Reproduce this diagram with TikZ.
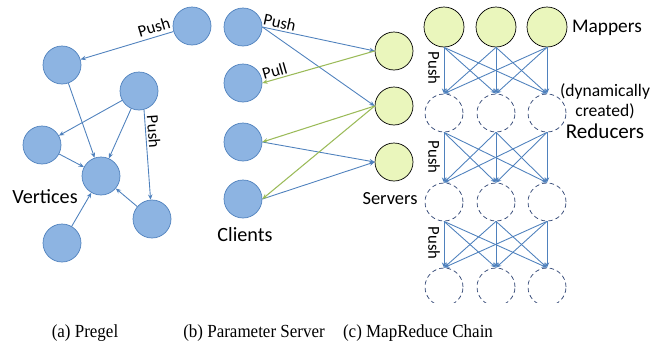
\documentclass[tikz,border=0pt]{standalone}
\usepackage{graphicx}
\usepackage{fontspec}
\setmainfont{Carlito}
\newfontfamily\capfont{Liberation Serif}
\usetikzlibrary{arrows.meta}
\definecolor{vfill}{RGB}{141,180,226}
\definecolor{vline}{RGB}{79,129,189}
\definecolor{sfill}{RGB}{234,246,188}
\definecolor{gline}{RGB}{155,187,89}
\definecolor{dline}{RGB}{40,62,110}

\begin{document}
\begin{tikzpicture}[x=0.02cm,y=-0.02cm,
    vertex/.style={circle,draw=vline,fill=vfill,minimum size=0.76cm,inner sep=0pt},
    server/.style={circle,draw=black,fill=sfill,minimum size=0.76cm,inner sep=0pt},
    reducer/.style={circle,draw=dline,dash pattern=on 2.5pt off 1.8pt,minimum size=0.76cm,inner sep=0pt},
    push/.style={-{Stealth[length=3pt,width=2.5pt]},vline,line width=0.5pt},
    pull/.style={-{Stealth[length=3pt,width=2.5pt]},gline,line width=0.6pt},
    tag/.style={text=black,font=\fontsize{9.5}{11}\selectfont,inner sep=1pt},
    big/.style={text=black,font=\fontsize{11.5}{13}\selectfont,inner sep=0pt},
    captext/.style={font=\capfont\fontsize{10.5}{12}\selectfont}]
    \useasboundingbox (0,0) rectangle (662,356);
    % (a) Pregel
    \node[vertex] (p0) at (192,26) {};
    \node[vertex] (p1) at (62,65) {};
    \node[vertex] (p2) at (139,91) {};
    \node[vertex] (p3) at (42,145) {};
    \node[vertex] (p4) at (101,176) {};
    \node[vertex] (p5) at (152,219) {};
    \node[vertex] (p6) at (62,243) {};
    \draw[push] (p0) -- node[tag,pos=0.18,above=1pt,sloped] {Push} (p1);
    \draw[push] (p1) -- (p4);
    \draw[push] (p2) -- (p3);
    \draw[push] (p2) -- (p4);
    \draw[push] (p2.-75) -- node[tag,pos=0.25,above,sloped] {Push} (p5);
    \draw[push] (p3) -- (p4);
    \draw[push] (p5) -- (p4);
    \draw[push] (p6) -- (p4);
    \node[big] (vert) at (45,197) {Vertices};
    % (b) Parameter Server
    \foreach \i/\y in {1/27,2/83,3/142,4/199}{
        \node[vertex] (c\i) at (243,\y) {};
    }
    \foreach \i/\y in {1/51,2/106,3/162}{
        \node[server] (s\i) at (394,\y) {};
    }
    \draw[push] (c1.east) -- node[tag,pos=0.14,above,sloped] {Push} (s1.west);
    \draw[push] (c1.east) -- (s2.west);
    \draw[push] (c3.east) -- (s3.west);
    \draw[push] (c4.east) -- (s3.west);
    \draw[pull] (s1.west) -- node[tag,pos=0.87,above,sloped] {Pull} (c2.east);
    \draw[pull] (s2.west) -- (c3.east);
    \draw[pull] (s2.west) -- (c4.east);
    \node[big] (cli) at (245,235) {Clients};
    \node[big,font=\fontsize{10.5}{12}\selectfont] (srv) at (390,199) {Servers};
    % (c) MapReduce Chain
    \foreach \i/\x in {1/444,2/496,3/547}{
        \node[server,minimum size=0.8cm] (m\i) at (\x,27) {};
        \node[reducer] (ra\i) at (\x,113) {};
        \node[reducer] (rb\i) at (\x,202) {};
    }
    \begin{scope}
        \clip (400,0) rectangle (600,302);
        \foreach \i/\x in {1/444,2/496,3/547}{
            \node[reducer] (rc\i) at (\x,287) {};
        }
    \end{scope}
    \foreach \i in {1,2,3}{
        \foreach \j in {1,2,3}{
            \draw[push] (m\i.south) -- (ra\j.north);
            \draw[push] (ra\i.south) -- (rb\j.north);
            \draw[push] (rb\i.south) -- (rc\j.north);
        }
    }
    \node[tag,rotate=-90] (pa) at (434,68) {Push};
    \node[tag,rotate=-90] (pb) at (434,157) {Push};
    \node[tag,rotate=-90] (pc) at (434,243) {Push};
    \node[big,font=\fontsize{11}{13}\selectfont] (map) at (607,28) {Mappers};
    \node[tag,align=center,font=\fontsize{10}{11.5}\selectfont] (dyn) at (605,101) {(dynamically\\created)};
    \node[big,font=\fontsize{12}{14}\selectfont] (red) at (605,131) {Reducers};
    % captions
    \node[captext] (ca) at (85,333) {\scalebox{0.92}[1]{(a) Pregel}};
    \node[captext] (cb) at (254,333) {\scalebox{0.92}[1]{(b) Parameter Server}};
    \node[captext] (cc) at (418,333) {\scalebox{0.92}[1]{(c) MapReduce Chain}};
\end{tikzpicture}
\end{document}
